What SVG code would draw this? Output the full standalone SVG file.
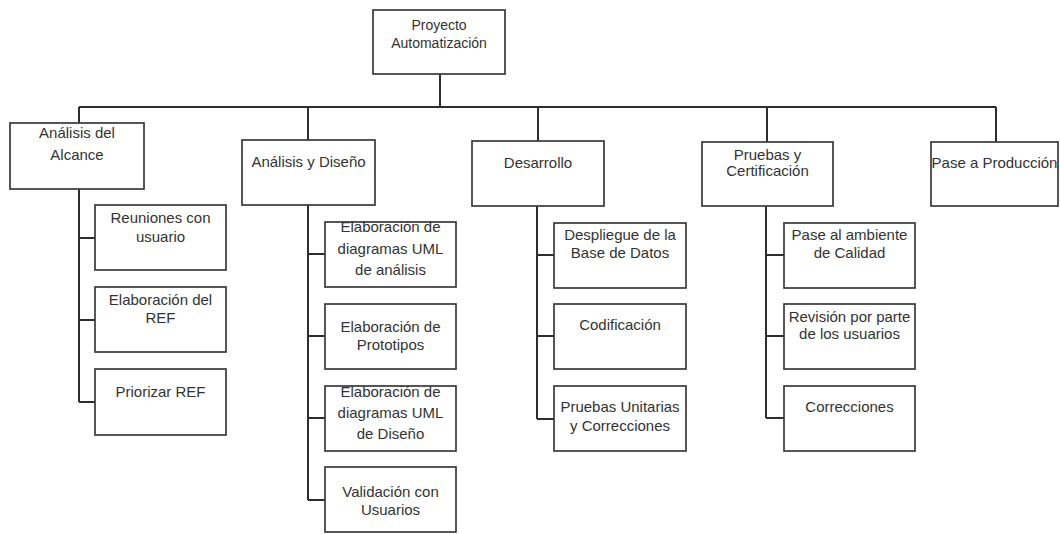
<svg xmlns="http://www.w3.org/2000/svg" width="1060" height="534" viewBox="0 0 1060 534">
  <style>
    .box { fill: #ffffff; stroke: #3a3a3a; stroke-width: 1.7; }
    .wire { fill: none; stroke: #2e2e2e; stroke-width: 2; }
    text { font-family: "Liberation Sans", Arial, sans-serif; font-size: 15px; fill: #333333; text-anchor: middle; }
    .root text { font-size: 14px; }
  </style>
  <rect width="1060" height="534" fill="#ffffff"/>

  <!-- connectors -->
  <g id="connectors">
    <path class="wire" d="M440 74 V107"/>
    <path class="wire" d="M79 107 H996"/>
    <path class="wire" d="M79 107 V123"/>
    <path class="wire" d="M308 107 V140"/>
    <path class="wire" d="M538 107 V141"/>
    <path class="wire" d="M767 107 V142"/>
    <path class="wire" d="M996 107 V142"/>
    <!-- Análisis del Alcance -->
    <path class="wire" d="M79 189 V402 M79 238 H95 M79 320 H95 M79 402 H95"/>
    <!-- Análisis y Diseño -->
    <path class="wire" d="M308 205 V500 M308 254 H325 M308 336 H325 M308 418 H325 M308 500 H325"/>
    <!-- Desarrollo -->
    <path class="wire" d="M537 206 V419 M537 255 H554 M537 336 H554 M537 419 H554"/>
    <!-- Pruebas y Certificación -->
    <path class="wire" d="M766 206 V418 M766 255 H784 M766 336 H784 M766 418 H784"/>
  </g>

  <g id="n-proyecto" class="root">
    <rect class="box" x="373" y="10" width="132" height="64"/>
    <text x="439" y="30">Proyecto</text>
    <text x="439" y="48">Automatización</text>
  </g>

  <g id="n-alcance">
    <rect class="box" x="10" y="123" width="134" height="66"/>
    <text x="77" y="138">Análisis del</text>
    <text x="77" y="160">Alcance</text>
  </g>
  <g id="n-reuniones">
    <rect class="box" x="95" y="205" width="131" height="65"/>
    <text x="160.5" y="223">Reuniones con</text>
    <text x="160.5" y="242">usuario</text>
  </g>
  <g id="n-elab-ref">
    <rect class="box" x="95" y="287" width="131" height="65"/>
    <text x="160.5" y="305">Elaboración del</text>
    <text x="160.5" y="323">REF</text>
  </g>
  <g id="n-priorizar">
    <rect class="box" x="95" y="369" width="131" height="66"/>
    <text x="160.5" y="397">Priorizar REF</text>
  </g>

  <g id="n-analisis-diseno">
    <rect class="box" x="242" y="140" width="133" height="65"/>
    <text x="308.5" y="167">Análisis y Diseño</text>
  </g>
  <g id="n-uml-analisis">
    <rect class="box" x="325" y="222" width="131" height="65"/>
    <text x="390.5" y="232">Elaboración de</text>
    <text x="390.5" y="254">diagramas UML</text>
    <text x="390.5" y="275">de análisis</text>
  </g>
  <g id="n-prototipos">
    <rect class="box" x="325" y="304" width="131" height="65"/>
    <text x="390.5" y="332">Elaboración de</text>
    <text x="390.5" y="350">Prototipos</text>
  </g>
  <g id="n-uml-diseno">
    <rect class="box" x="325" y="386" width="131" height="65"/>
    <text x="390.5" y="397">Elaboración de</text>
    <text x="390.5" y="418">diagramas UML</text>
    <text x="390.5" y="439">de Diseño</text>
  </g>
  <g id="n-validacion">
    <rect class="box" x="325" y="467" width="131" height="65"/>
    <text x="390.5" y="497">Validación con</text>
    <text x="390.5" y="515">Usuarios</text>
  </g>

  <g id="n-desarrollo">
    <rect class="box" x="472" y="141" width="132" height="65"/>
    <text x="538" y="168">Desarrollo</text>
  </g>
  <g id="n-despliegue">
    <rect class="box" x="554" y="223" width="132" height="65"/>
    <text x="620" y="240">Despliegue de la</text>
    <text x="620" y="258">Base de Datos</text>
  </g>
  <g id="n-codificacion">
    <rect class="box" x="554" y="304" width="132" height="65"/>
    <text x="620" y="330">Codificación</text>
  </g>
  <g id="n-pruebas-unitarias">
    <rect class="box" x="554" y="386" width="132" height="65"/>
    <text x="620" y="412">Pruebas Unitarias</text>
    <text x="620" y="431">y Correcciones</text>
  </g>

  <g id="n-pruebas">
    <rect class="box" x="702" y="142" width="131" height="64"/>
    <text x="767.5" y="160">Pruebas y</text>
    <text x="767.5" y="176">Certificación</text>
  </g>
  <g id="n-calidad">
    <rect class="box" x="784" y="223" width="131" height="65"/>
    <text x="849.5" y="240">Pase al ambiente</text>
    <text x="849.5" y="258">de Calidad</text>
  </g>
  <g id="n-revision">
    <rect class="box" x="784" y="304" width="131" height="65"/>
    <text x="849.5" y="322">Revisión por parte</text>
    <text x="849.5" y="339">de los usuarios</text>
  </g>
  <g id="n-correcciones">
    <rect class="box" x="784" y="386" width="131" height="65"/>
    <text x="849.5" y="412">Correcciones</text>
  </g>

  <g id="n-produccion">
    <rect class="box" x="931" y="142" width="127" height="64"/>
    <text x="994.5" y="168">Pase a Producción</text>
  </g>
</svg>
